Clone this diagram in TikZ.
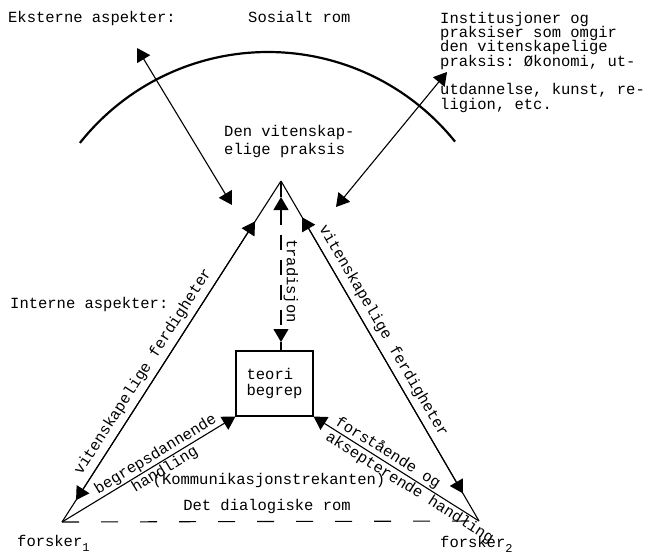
\documentclass[tikz,border=0pt]{standalone}
\usepackage{fontspec}
\setmonofont{Liberation Mono}
\usetikzlibrary{arrows.meta}
\begin{document}
\begin{tikzpicture}[x=1pt,y=-1pt,
  txt/.style={font=\ttfamily\fontsize{15.5}{18}\selectfont, inner sep=0pt},
  edge/.style={line width=1.1pt},
  tipboth/.style={{Triangle[length=13pt,width=15pt]}-{Triangle[length=13pt,width=15pt]}},
  tipend/.style={-{Triangle[length=13pt,width=15pt]}},
  tipstart/.style={{Triangle[length=13pt,width=15pt]}-},
]
\useasboundingbox[fill=white] (0,0) rectangle (652,556);

% main points
\coordinate (apex) at (281,181);
\coordinate (f1) at (62,522);
\coordinate (f2) at (479,521);
\node[draw, edge, minimum width=77pt, minimum height=65pt, txt, align=left,
      font=\ttfamily\fontsize{15.5}{16}\selectfont] (box) at (274.5,383.5) {teori\\begrep};

% social space arc
\draw[line width=2.2pt] plot[domain=141.6:38.8, samples=80, smooth]
  ({268+240*cos(\x)}, {292-240*sin(\x)});

% external arrows
\coordinate (e1a) at (137,48);
\coordinate (e1b) at (232,205);
\coordinate (e2a) at (447,72);
\coordinate (e2b) at (336,207);
\draw[edge, tipboth] (e1a) -- (e1b);
\draw[edge, tipboth] (e2a) -- (e2b);

% triangle sides
\draw[edge] (f1) -- node[txt, sloped, pos=0.42, above=5pt] (lvf) {vitenskapelige ferdigheter} (apex);
\draw[edge] (apex) -- node[txt, sloped, pos=0.46, above=5pt] (rvf) {vitenskapelige ferdigheter} (f2);
\draw[edge, tipboth, shorten <=26pt, shorten >=48pt] (f1) -- (apex);
\draw[edge, tipboth, shorten <=42pt, shorten >=32pt] (apex) -- (f2);

% dialogic bottom
\draw[edge, dash pattern=on 17pt off 22pt] (f1) -- (f2);

% box arrows
\draw[edge, tipend] (f1) -- node[txt, sloped, pos=0.567, align=center] (lbeg) {begrepsdannende\\handling} (box.south west);
\draw[edge, tipstart] (box.south east) -- node[txt, sloped, pos=0.61, align=left] (rfor) {forstående og\\aksepterende handling} (f2);

% tradition
\coordinate (tradtop) at (281,197);
\coordinate (tradbot) at (281,342);
\draw[edge] (apex) -- (tradtop);
\draw[edge, dash pattern=on 15pt off 10pt, tipboth] (tradtop) -- (tradbot);
\draw[edge] (tradbot) -- (tradbot |- box.north);
\node[txt, rotate=-90] (trad) at (291,281) {tradisjon};

% texts
\node[txt, anchor=base west] (ext) at (8,23) {Eksterne aspekter:};
\node[txt, anchor=base west] (sosial) at (248,23) {Sosialt rom};
\node[txt, anchor=base west] (inst1) at (440,24) {Institusjoner og};
\node[txt, anchor=base west] (inst2) at (440,38) {praksiser som omgir};
\node[txt, anchor=base west] (inst3) at (440,52) {den vitenskapelige};
\node[txt, anchor=base west] (inst4) at (440,67) {praksis: Økonomi, ut-};
\node[txt, anchor=base west] (inst5) at (440,95) {utdannelse, kunst, re-};
\node[txt, anchor=base west] (inst6) at (440,110) {ligion, etc.};
\node[txt, anchor=base west] (prak1) at (224,137) {Den vitenskap-};
\node[txt, anchor=base west] (prak2) at (224,154) {elige praksis};
\node[txt, anchor=base west] (intern) at (10,308) {Interne aspekter:};
\node[txt, anchor=base] (komm) at (269,484) {(Kommunikasjonstrekanten)};
\node[txt, anchor=base] (dial) at (267,510) {Det dialogiske rom};
\node[txt, anchor=base west] (fo1) at (17,546) {forsker\raisebox{-5pt}{\fontsize{12}{12}\selectfont 1}};
\node[txt, anchor=base west] (fo2) at (440,547) {forsker\raisebox{-5pt}{\fontsize{12}{12}\selectfont 2}};
\end{tikzpicture}
\end{document}
